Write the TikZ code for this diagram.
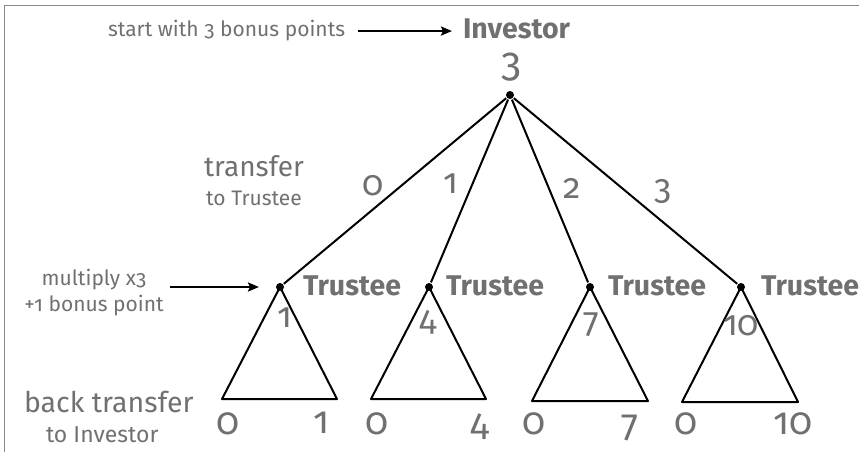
\documentclass[tikz,border=0pt]{standalone}
\usepackage{fontspec}
\setmainfont{Fira Sans}[Numbers=OldStyle]
\usetikzlibrary{arrows.meta}

\definecolor{txtgray}{HTML}{707070}
\definecolor{framegray}{HTML}{888888}

\tikzset{
  lbl/.style={text=txtgray, inner sep=0pt},
  player/.style={lbl, font=\bfseries\fontsize{28.5}{28.5}\selectfont},
  note/.style={lbl, font=\fontsize{21}{21}\selectfont},
  headnote/.style={lbl, font=\fontsize{28}{28}\selectfont},
  edgenum/.style={lbl, font=\fontsize{35}{35}\selectfont},
  leafnum/.style={lbl, font=\fontsize{38}{38}\selectfont},
  dot/.style={circle, fill=black, inner sep=0pt, minimum size=8pt},
  arr/.style={line width=2.4pt, -{Stealth[length=11pt, width=9pt, inset=2pt]}},
}

\begin{document}
\begin{tikzpicture}[x=1pt, y=-1pt, line width=2pt, line join=round]
    \useasboundingbox (0,0) rectangle (859,452);

    % Frame
    \draw[framegray, line width=1.5pt] (4.5,452) -- (4.5,5.5) -- (859,5.5);

    % Investor
    \node[player, anchor=base west] (investor) at (462,38) {Investor};
    \node[leafnum, font=\fontsize{41}{41}\selectfont] (endow) at (511,67) {3};
    \node[dot] (inv) at (510,95) {};

    % Trustees
    \node[dot] (t1) at (280,287) {};
    \node[dot] (t2) at (429,287) {};
    \node[dot] (t3) at (590,287) {};
    \node[dot] (t4) at (741,287) {};
    \node[player, anchor=base west] (lab1) at (302,295) {Trustee};
    \node[player, anchor=base west] (lab2) at (445,295) {Trustee};
    \node[player, anchor=base west] (lab3) at (607,295) {Trustee};
    \node[player, anchor=base west] (lab4) at (760,295) {Trustee};

    % First move: transfer
    \draw (inv) -- (t1);
    \draw (inv) -- (t2);
    \draw (inv) -- (t3);
    \draw (inv) -- (t4);
    \node[edgenum] (e0) at (373,186) {0};
    \node[edgenum] (e1) at (451,184) {1};
    \node[edgenum] (e2) at (572,188) {2};
    \node[edgenum] (e3) at (663,192) {3};

    % Second move: back transfer (triangles)
    \coordinate (b1l) at (222,399);  \coordinate (b1r) at (337,399);
    \coordinate (b2l) at (371,399);  \coordinate (b2r) at (486,399);
    \coordinate (b3l) at (532,401);  \coordinate (b3r) at (648,401);
    \coordinate (b4l) at (682,402);  \coordinate (b4r) at (798,402);
    \draw (t1.center) -- (b1l) -- (b1r) -- cycle;
    \draw (t2.center) -- (b2l) -- (b2r) -- cycle;
    \draw (t3.center) -- (b3l) -- (b3r) -- cycle;
    \draw (t4.center) -- (b4l) -- (b4r) -- cycle;

    % Amounts held by the trustee
    \node[edgenum] (h1) at (285,318) {1};
    \node[edgenum] (h2) at (428,322) {4};
    \node[edgenum] (h3) at (591,325) {7};
    \node[edgenum] (h4) at (741,326) {10};

    % Leaves
    \node[leafnum] (l1a) at (228,424) {0};
    \node[leafnum] (l1b) at (322,423) {1};
    \node[leafnum] (l2a) at (377,424) {0};
    \node[leafnum] (l2b) at (480,427) {4};
    \node[leafnum] (l3a) at (534,424) {0};
    \node[leafnum] (l3b) at (630,428) {7};
    \node[leafnum] (l4a) at (686,424) {0};
    \node[leafnum] (l4b) at (793,424) {10};

    % Annotations
    \node[note, anchor=base west] (startnote) at (107,37) {start with 3 bonus points};
    \draw[arr, shorten <=12pt, shorten >=10pt] (startnote.east) -- (investor.west |- startnote.east);

    \node[headnote, anchor=base] (transfer) at (254,176) {transfer};
    \node[note, anchor=base] (totrustee) at (254,205) {to Trustee};

    \node[note, anchor=base] (mult1) at (94,285) {multiply x3};
    \node[note, anchor=base] (mult2) at (94,311) {+1 bonus point};
    \draw[arr, shorten <=5pt, shorten >=16pt] (mult2.east |- t1) -- (t1);

    \node[headnote, font=\fontsize{28.5}{28.5}\selectfont, anchor=base west] (back) at (23,412) {back transfer};
    \node[note, font=\fontsize{23}{23}\selectfont, anchor=base west] (toinv) at (45,442) {to Investor};
\end{tikzpicture}
\end{document}
